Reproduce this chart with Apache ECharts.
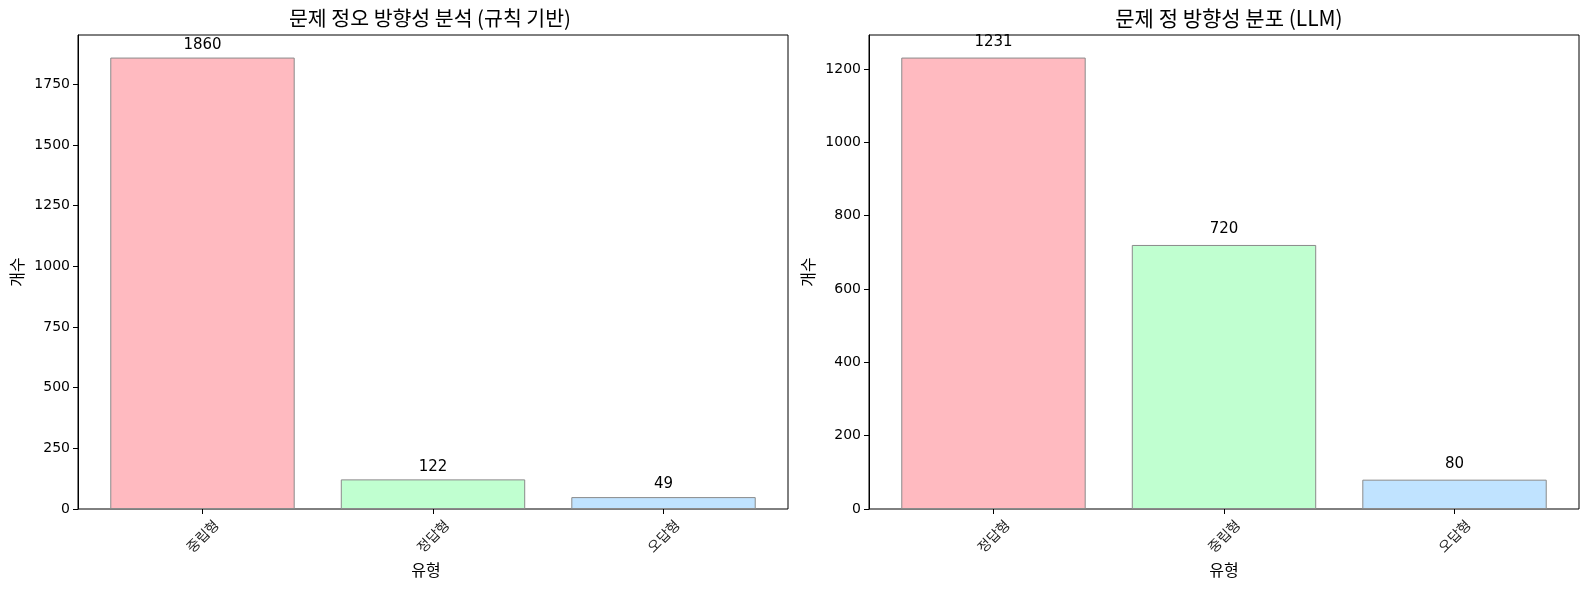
<!DOCTYPE html>
<html>
<head>
<meta charset="utf-8">
<script src="https://cdn.jsdelivr.net/npm/echarts@6/dist/echarts.min.js"></script>
<style>html,body{margin:0;padding:0;background:#fff;}#c{width:1589px;height:590px;}</style>
</head>
<body>
<div id="c"></div>
<script>
// ---- data ----
const leftTitle = '문제 정오 방향성 분석 (규칙 기반)';
const rightTitle = '문제 정 방향성 분포 (LLM)';
const leftCategories = ['중립형', '정답형', '오답형'];
const leftValues = [1860, 122, 49];
const rightCategories = ['정답형', '중립형', '오답형'];
const rightValues = [1231, 720, 80];
const leftColors = ['#FFBAC0', '#C0FFD0', '#C0E3FF'];
const rightColors = ['#FFBAC0', '#C0FFD0', '#C0E3FF'];
const leftYTicks = [0, 250, 500, 750, 1000, 1250, 1500, 1750];
const rightYTicks = [0, 200, 400, 600, 800, 1000, 1200];
const xName = '유형';
const yName = '개수';

const NFONT = '"DejaVu Sans", "Noto Sans CJK KR", sans-serif';
const KFONT = '"Noto Sans CJK KR", sans-serif';

const chart = echarts.init(document.getElementById('c'), null, {renderer: 'canvas'});

// matplotlib-like limits: x from -0.54 to 2.54, y max = 1.05 * max
const T = 35, H = 474;
function panel(left, width, vals) {
  const ymax = Math.max(...vals) * 1.05;
  const unit = width / 3.08;
  const inLeft = left + 0.04 * unit;
  const inWidth = 3 * unit;
  return {
    grids: [
      {left: left, top: T, width: width, height: H, show: true, borderColor: '#000', borderWidth: 1, backgroundColor: 'transparent', containLabel: false, outerBoundsMode: 'none'},
      {left: inLeft, top: T, width: inWidth, height: H, containLabel: false, outerBoundsMode: 'none'}
    ],
    ymax: ymax,
    barWidth: 0.8 * unit,
    center: left + width / 2
  };
}

const L = panel(78, 710, leftValues);
const R = panel(869, 710, rightValues);

function yAxisOuter(gi, ymax, ticks) {
  return {
    type: 'value', gridIndex: gi, min: 0, max: ymax,
    name: yName, nameLocation: 'middle', nameGap: 53,
    nameTextStyle: {fontFamily: KFONT, fontSize: 16, color: '#000'},
    axisLine: {show: true, lineStyle: {color: '#000', width: 1}},
    axisTick: {show: true, length: 5, lineStyle: {color: '#000'}, customValues: ticks},
    axisLabel: {show: true, margin: 8, fontFamily: NFONT, fontSize: 14, color: '#000', customValues: ticks,
      formatter: v => String(v)},
    splitLine: {show: false}
  };
}
function yAxisInner(gi, ymax) {
  return {type: 'value', gridIndex: gi, min: 0, max: ymax, show: false, splitLine: {show: false}};
}
function xAxisOuter(gi) {
  return {type: 'value', gridIndex: gi, min: 0, max: 1, show: false};
}
function xAxisInner(gi, cats, shift) {
  return {
    type: 'category', gridIndex: gi, data: cats, boundaryGap: true,
    name: xName, nameLocation: 'middle', nameGap: 53,
    nameTextStyle: {fontFamily: KFONT, fontSize: 16, color: '#000', padding: [0, 0, 0, shift]},
    axisLine: {show: false},
    axisTick: {show: true, alignWithLabel: true, length: 5, lineStyle: {color: '#000'}},
    axisLabel: {show: true, rotate: 45, align: 'center', verticalAlign: 'middle', margin: 27, fontFamily: KFONT, fontSize: 14, color: '#222'},
    splitLine: {show: false}
  };
}
function barSeries(xi, yi, vals, colors, bw, dist) {
  return {
    type: 'bar', xAxisIndex: xi, yAxisIndex: yi, barWidth: bw,
    data: vals.map((v, i) => ({value: v, itemStyle: {color: colors[i]}})),
    itemStyle: {borderColor: '#8a8a8a', borderWidth: 1},
    label: {show: true, position: 'top', distance: dist, fontFamily: NFONT, fontSize: 15, color: '#000'},
    silent: true, animation: false
  };
}

chart.setOption({
  backgroundColor: '#fff',
  animation: false,
  title: [
    {text: leftTitle, left: L.center - 8, top: 3, textAlign: 'center', textStyle: {fontFamily: KFONT, fontSize: 20.5, fontWeight: 'normal', color: '#000'}},
    {text: rightTitle, left: R.center, top: 3, textAlign: 'center', textStyle: {fontFamily: KFONT, fontSize: 21, fontWeight: 'normal', color: '#000'}}
  ],
  grid: [...L.grids, ...R.grids],
  xAxis: [xAxisOuter(0), xAxisInner(1, leftCategories, -14), xAxisOuter(2), xAxisInner(3, rightCategories, 0)],
  yAxis: [yAxisOuter(0, L.ymax, leftYTicks), yAxisInner(1, L.ymax), yAxisOuter(2, R.ymax, rightYTicks), yAxisInner(3, R.ymax)],
  series: [
    barSeries(1, 1, leftValues, leftColors, L.barWidth, 5),
    barSeries(3, 3, rightValues, rightColors, R.barWidth, 8)
  ]
});
</script>
</body>
</html>
